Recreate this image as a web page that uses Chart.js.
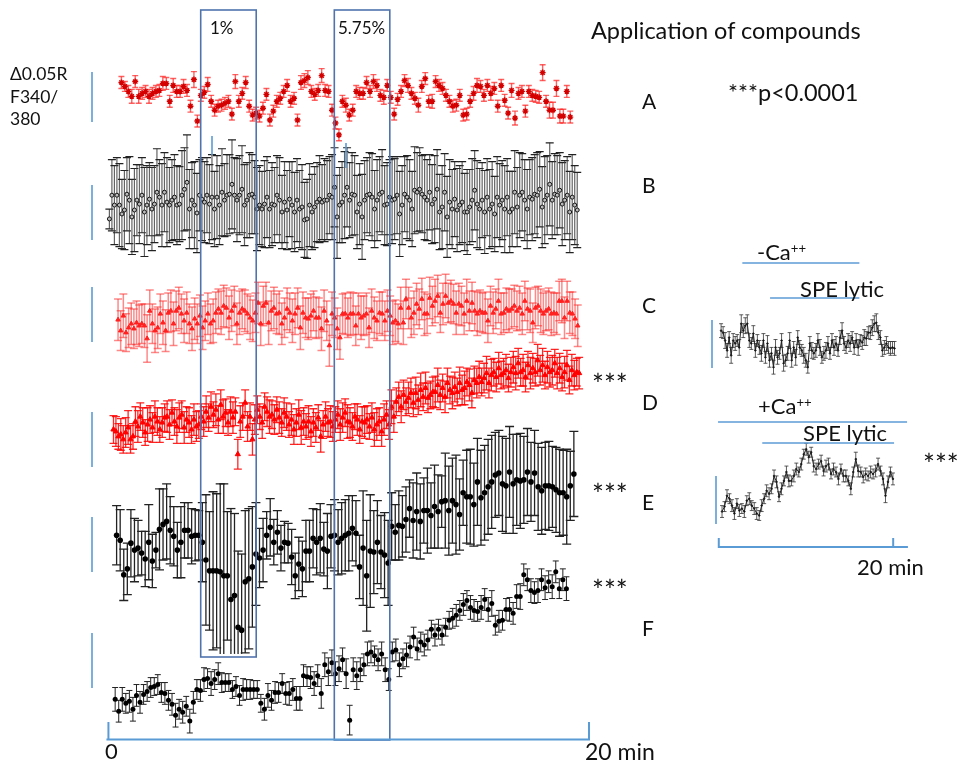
<!DOCTYPE html>
<html>
<head>
<meta charset="utf-8">
<script src="https://cdn.jsdelivr.net/npm/chart.js@4.4.1/dist/chart.umd.min.js"></script>
<style>
  body { margin: 0; background: #fff; }
  #wrap { position: relative; width: 961px; height: 770px; overflow: hidden;
          font-family: Lato, 'Open Sans', sans-serif; color: #111; background: #fff; }
  #fig { position: absolute; left: 0; top: 0; }
  .t { position: absolute; white-space: nowrap; line-height: 1; }
  .t sup { font-size: 60%; vertical-align: 0.55em; line-height: 0; }
</style>
</head>
<body>
<div id="wrap">
  <canvas id="fig" width="961" height="770"></canvas>

  <div class="t" style="left:210px;top:19px;font-size:17px">1%</div>
  <div class="t" style="left:338px;top:19px;font-size:17px">5.75%</div>
  <div class="t" style="left:591px;top:19px;font-size:23.5px">Application of compounds</div>
  <div class="t" style="left:728px;top:81px;font-size:23.5px">***p&lt;0.0001</div>

  <div class="t" style="left:10px;top:65px;font-size:17.5px">Δ0.05R</div>
  <div class="t" style="left:10px;top:88px;font-size:17.5px">F340/</div>
  <div class="t" style="left:10px;top:110px;font-size:17.5px">380</div>

  <div class="t" style="left:642px;top:90px;font-size:21px">A</div>
  <div class="t" style="left:642px;top:174px;font-size:21px">B</div>
  <div class="t" style="left:642px;top:294px;font-size:21px">C</div>
  <div class="t" style="left:642px;top:391px;font-size:21px">D</div>
  <div class="t" style="left:642px;top:491px;font-size:21px">E</div>
  <div class="t" style="left:642px;top:617px;font-size:21px">F</div>

  <div class="t" style="left:592px;top:370px;font-size:28px">***</div>
  <div class="t" style="left:592px;top:480px;font-size:28px">***</div>
  <div class="t" style="left:592px;top:576px;font-size:28px">***</div>

  <div class="t" style="left:105px;top:740px;font-size:22px">0</div>
  <div class="t" style="left:585px;top:740px;font-size:23px">20 min</div>

  <div class="t" style="left:757px;top:241px;font-size:22px">-Ca<sup>++</sup></div>
  <div class="t" style="left:800px;top:278px;font-size:22px">SPE lytic</div>
  <div class="t" style="left:758px;top:395px;font-size:22px">+Ca<sup>++</sup></div>
  <div class="t" style="left:803px;top:422px;font-size:22px">SPE lytic</div>
  <div class="t" style="left:923px;top:450px;font-size:28px">***</div>
  <div class="t" style="left:857px;top:556px;font-size:22px">20 min</div>
</div>

<script>
// ─── Data (ΔR x 1000, relative to each trace's scale bar foot) ────────────────

const A_SPAN = [0.54, 19.22];
const B_SPAN = [0.04, 19.51];
const C_SPAN = [0.40, 19.53];
const D_SPAN = [0.21, 19.59];
const E_SPAN = [0.34, 19.37];
const F_SPAN = [0.28, 19.06];
const INSET_TOP_SPAN = [0.15, 20.15];
const INSET_BOT_SPAN = [0.26, 19.97];

const traceA = [
  43,39,34,29,44,29,32,34,29,32, 34,35,42,42,24,40,34,34,39,35,
  19,46,4,30,33,41,24,15,19,20, 22,24,11,44,24,32,43,19,10,12,
  9,17,31,5,14,24,27,34,40,24, 27,5,43,45,48,34,31,35,50,35,
  34,15,2,-10,24,
  20,10,15,34,32,32,43,34,44,40, 30,28,40,28,11,26,34,45,40,32,
  27,20,39,47,24,24,44,40,37,30, 24,19,20,30,10,11,24,32,40,39,
  30,40,32,37,19,40,25,12,35,7, 32,34,14,34,30,29,28,53,24,15,
  15,37,9,9,34,8
];
const errA = [
  6,5,6,7,6,7,6,6,7,6, 6,6,7,6,6,7,6,6,7,6, 6,8,6,6,6,7,6,6,6,6,
  6,6,6,7,6,6,6,6,6,6, 6,6,6,6,6,6,6,6,6,6, 6,6,7,7,7,6,6,6,7,6,
  6,6,6,6,6,
  7,6,6,6,6,6,6,6,7,6, 6,7,6,6,6,6,6,6,7,6, 6,7,6,6,6,7,6,6,6,6,
  6,6,6,6,6,6,6,7,7,6, 6,6,7,6,6,6,6,6,7,7, 6,6,6,6,6,6,6,8,6,8,
  8,8,7,7,6,6
];

const traceB = [
  23,47,37,47,37,28,32,48,42,25, 32,42,38,47,30,37,43,33,38,50,
  45,37,50,40,37,42,45,37,38,47, 53,60,33,42,37,29,47,43,40,47,
  38,45,33,45,37,50,42,47,48,58, 47,42,47,53,37,42,47,48,45,33,
  37,33,38,45,33,38,37,47,42,30, 40,32,43,37,30,42,33,35,22,23,
  37,30,35,40,43,40,42,42,47,45, 55,25,37,40,47,55,42,48,47,30,
  38,25,42,47,48,45,33,42,48,50, 37,38,45,42,43,47,28,37,48,45,
  42,33,52,50,53,48,45,42,50,38, 43,53,30,35,50,25,40,33,43,32,
  37,40,30,30,35,42,52,38,33,42, 30,45,33,38,28,45,37,42,33,45,
  30,33,50,35,47,50,42,33,45,43, 48,47,53,35,42,47,58,42,48,47,
  52,38,42,47,30,45,37,32
];
const errB = [
  10,36,40,38,42,35,40,37,44,38, 42,36,40,38,45,40,37,42,39,44,
  38,42,40,45,38,41,43,40,38,45, 42,48,40,38,44,40,36,42,41,38,
  40,43,38,42,40,44,37,41,40,45, 38,42,40,44,41,38,43,40,37,42,
  40,38,44,41,39,42,38,40,43,37, 41,40,38,44,40,42,39,43,38,40,
  42,38,41,40,44,38,42,40,39,43, 40,42,38,41,44,40,38,42,40,37,
  41,43,40,38,42,44,39,41,38,43, 40,42,38,44,41,39,43,40,38,42,
  41,38,44,40,42,39,43,41,38,40, 44,40,38,42,39,41,43,40,38,42,
  40,41,39,43,38,42,40,44,41,38, 42,39,40,43,38,41,42,40,44,39,
  41,38,42,40,43,39,41,40,38,42, 40,43,38,41,44,40,42,39,41,40,
  38,42,40,39,41,43,40,38
];

const traceC = [
  23,12,27,10,15,19,14,20,17,19, 17,4,32,19,12,15,29,20,12,30,
  32,19,32,35,29,22,30,19,14,24, 19,27,15,22,29,19,22,30,34,30,
  37,35,25,32,37,19,30,34,32,29, 25,22,30,40,19,37,40,20,32,35,
  29,30,19,25,34,30,22,29,35,15, 30,25,24,27,32,25,25,14,32,22,
  -3,29,25,14,5,29,29,25,29,29, 17,29,25,27,29,15,32,25,22,30,
  29,22,32,27,20,22,19,35,20,44, 35,25,30,39,34,44,29,29,45,37,
  42,47,30,39,47,40,42,39,30,39, 37,29,42,32,40,32,29,32,30,30,
  22,37,30,34,42,29,30,34,32,34, 37,32,35,29,42,34,32,20,35,37,
  32,29,32,34,29,30,29,42,42,25, 42,30,29,24,17
];
const errC = [
  21,20,22,19,20,21,20,22,21,20, 22,24,21,20,22,21,20,22,21,20,
  21,22,20,21,20,22,21,20,22,21, 20,21,22,20,21,20,22,21,20,22,
  21,20,22,21,20,21,22,20,21,20, 22,21,20,21,22,20,21,22,20,21,
  20,22,21,20,21,20,22,21,20,22, 21,20,21,22,20,21,20,22,21,20,
  21,22,20,21,22,20,21,20,22,21, 20,21,22,20,21,20,22,21,20,21,
  22,20,21,20,22,21,20,21,22,20, 21,20,22,21,20,21,22,20,21,20,
  22,21,20,21,22,20,21,20,22,21, 20,21,22,20,21,20,22,21,20,21,
  22,20,21,20,22,21,20,21,22,20, 21,20,22,21,20,21,22,20,21,20,
  22,21,20,21,22,20,21,20,22,21, 20,21,22,20,21
];

const traceD = [
  37,35,30,32,27,34,39,27,30,
  45,40,50,44,34,42,47,39,50,45,37,44,49,
  50,42,54,45,40,49,52,39,47,
  44,37,47,40,42,50,45,55,49,
  60,52,57,47,62,50,54,44,55,49,
  55,12,45,50,64,40,50,27,
  47,57,50,44,60,
  55,50,52,47,57,49,44,54,
  50,42,47,37,44,52,39,45,
  40,45,35,44,39,49,30,42,
  50,44,45,40,47,52,42,
  49,54,45,44,40,50,47,37,45,
  44,47,40,49,37,42,45,35,47,52,42,
  60,50,
  65,70,60,72,65,69,74,64,
  74,67,77,70,79,69,72,75,
  75,82,72,79,70,84,77,74,
  80,75,84,77,79,85,82,74,
  87,84,90,85,89,94,84,92,
  95,90,99,92,94,97,89,95,
  100,94,104,95,97,90,102,94,
  99,95,107,97,102,92,100,95,
  97,104,94,99,90,95,102,87,
  97,92,95,94
];
const errD = [
  14,15,13,16,14,15,17,14,13,15, 16,14,15,13,17,14,15,16,14,13,
  15,14,16,15,13,14,17,15,14,16, 13,15,14,16,15,14,13,15,16,14,
  15,13,16,14,15,17,14,13,15,16, 14,15,16,14,13,15,14,16,15,14,
  13,16,14,15,17,14,15,13,16,14, 15,14,13,16,15,14,15,17,14,13,
  16,15,14,15,13,16,14,15,14,16, 15,13,14,16,15,14,17,15,14,13,
  16,14,15,16,14,13,15,17,16,14, 15,16,14,15,17,16,14,15,16,15,
  14,16,15,14,16,15,17,14,16,15, 14,15,16,17,15,14,16,15,14,16,
  15,14,16,15,17,14,16,15,14,15, 16,14,15,17,15,16,14,15,16,14,
  15,16,14,15,16,17,15,14,16,15, 14,16,15,14,16,15,17,14,16,15,
  15,14,16,15,14,16,15,14,16,15, 14,16
];

const traceE = [
  35,30,-5,1,27,20,22,17,11,28, 9,20,41,46,49,40,34,20,28,40,
  40,34,35,35,28,10,-1,-1,-1,-2, -6,-6,-30,-26,-58,-61,-12,-9,3,16,
  12,20,35,43,28,38,22,28,27,13, -6,6,1,19,19,32,28,32,21,19,
  34,35,28,32,35,37,42,37,3,22, -6,19,18,28,18,15,7,44,38,45,
  44,51,62,50,59,49,60,60,55,64, 59,69,70,60,70,66,56,78,74,74,
  66,89,73,78,84,89,96,98,87,85, 99,87,91,90,91,99,89,98,84,80,
  85,85,84,81,78,78,74,85,97
];
const errE = [
  30,31,26,26,34,32,28,22,28,38, 27,18,41,36,38,34,30,28,36,28,
  28,28,26,25,40,66,60,80,78,89, 93,65,92,83,77,77,72,71,61,52,
  30,32,24,29,23,22,23,21,20,28, 23,27,28,31,31,30,33,35,27,38,
  32,36,33,36,36,38,33,33,32,58, 56,57,42,42,37,43,43,34,28,35,
  31,33,29,38,39,38,33,43,33,42, 37,26,48,45,43,50,36,33,47,48,
  42,44,48,48,48,47,43,43,48,48, 46,50,46,48,44,44,40,43,44,44,
  44,45,41,43,44,43,48,35,43
];

const traceF = [
  -15,-27,-15,-19,-17,-25,-11,-18,-10,-7, -3,-2,0,-8,-9,-16,-20,-31,-25,-28,
  -22,-37,-18,-5,-6,5,6,1,5,11, 2,2,2,-5,-2,-11,-5,-5,-5,-5,
  -5,-19,-25,-11,-16,-8,-8,1,-9,-9, -5,-14,-14,9,8,7,1,9,-9,20,
  13,22,11,16,25,11,-36,15,9,15,20, 31,33,29,25,31,15,5,33,35,20,
  26,30,38,48,36,43,40,45,56,50, 56,50,58,65,67,70,75,81,85,78,
  75,74,78,86,76,82,60,64,65,76, 76,72,89,89,111,106,95,93,95,106,
  98,104,99,114,97,106,97
];
const errF = [
  12,11,12,10,11,12,11,11,10,10, 10,9,10,10,11,10,11,12,10,11,
  10,12,11,10,11,12,10,12,10,11, 10,9,9,9,10,10,11,10,10,9,
  9,9,11,12,10,11,10,10,11,12, 11,12,12,11,10,11,12,11,15,12,
  14,13,12,13,12,15,15,12,14,12, 11,12,11,10,11,12,12,11,10,11,
  12,10,12,11,10,11,10,11,10,9, 11,10,10,9,9,10,11,10,11,10,
  12,11,10,12,11,12,13,10,11,10, 11,12,11,12,13,11,11,12,11,12,
  11,12,11,12,11,10,11,12
];

// inset: -Ca++ then SPE lytic (top), +Ca++ then SPE lytic (bottom)
const insetTop = [
  38,36,28,18,31,13,28,25,28,21, 45,38,43,45,28,25,35,18,28,21,
  15,28,11,25,8,15,1,21,11,15, 28,5,8,15,28,8,21,11,31,21,
  18,13,8,1,25,18,15,18,28,21, 11,15,18,25,15,28,21,25,18,31,
  38,25,21,28,25,31,21,28,21,28, 26,31,30,36,36,41,45,46,36,31,
  18,21,25,21,20,21,20
];
const errInsetTop = [
  7,6,8,7,6,8,7,7,6,8, 9,7,8,9,7,6,8,7,6,7, 8,7,6,8,7,6,7,8,7,6,
  7,8,6,7,8,7,6,8,7,7, 6,8,7,6,7,8,6,7,7,8, 6,7,8,7,6,7,8,7,6,7,
  8,7,6,7,8,6,7,7,8,6, 7,8,7,6,7,8,8,9,7,7, 6,7,7,6,7,6,7
];
const insetBot = [
  11,16,27,24,17,9,19,12,14,11, 22,24,17,14,9,7,17,24,32,29,
  34,47,41,26,34,42,51,42,42,47, 54,51,59,69,74,66,71,57,54,59,
  62,52,57,59,49,54,51,44,54,47, 47,42,34,51,64,52,51,46,49,47,
  51,49,52,59,52,44,27,41,51,44
];
const errInsetBot = [
  6,5,6,5,6,6,5,6,5,6, 5,6,5,6,6,5,6,5,6,6, 5,6,6,5,6,5,6,6,5,6,
  6,5,6,5,6,6,5,6,6,5, 6,5,6,6,5,6,5,6,5,6, 6,5,6,5,7,6,5,6,6,5,
  6,5,6,6,5,6,7,6,5,6
];

// application windows (min) for the boxed compounds
const BOX_1PCT = [3.84, 6.15];
const BOX_575PCT = [9.40, 11.71];
// inset bars (inset minutes)
const INSET_BARS = [
  { from: 2.6, to: 16.1, y: 263 },   // -Ca++
  { from: 5.8, to: 16.1, y: 298 },   // SPE lytic
  { from: -0.2, to: 21.6, y: 422 },  // +Ca++
  { from: 4.9, to: 20.1, y: 443 },   // SPE lytic
];

// ─── Layout ───────────────────────────────────────────────────────────────────

const W = 961, H = 770;
const MAIN_X0 = 105, MAIN_PX_PER_MIN = 24.25;
const INSET_X0 = 722, INSET_PX_PER_MIN = 8.75;
// pixel row of each trace's zero (foot of its scale bar)
const BASE = { yA: 122, yB: 240, yC: 342, yD: 467, yE: 572, yF: 688, yI1: 368, yI2: 524 };
const BOX_BLUE = '#4f74ad';
const BAR_BLUE = '#5b9bd5';

function sampleTimes(span, n) {
  const out = [];
  for (let i = 0; i < n; i++) out.push(span[0] + (span[1] - span[0]) * i / (n - 1));
  return out;
}

function points(span, values) {
  const t = sampleTimes(span, values.length);
  return values.map((v, i) => ({ x: t[i], y: v }));
}

function yAxis(base) {
  return { type: 'linear', display: false, min: base - H, max: base };
}

// ─── Plugins ──────────────────────────────────────────────────────────────────

const errorBars = {
  id: 'errorBars',
  beforeDatasetsDraw(chart) {
    const ctx = chart.ctx;
    chart.data.datasets.forEach(ds => {
      if (!ds.err) return;
      const xs = chart.scales[ds.xAxisID];
      const ys = chart.scales[ds.yAxisID];
      ctx.save();
      ds.data.forEach((p, j) => {
        const e = ds.err[j];
        if (e == null) return;
        const x = xs.getPixelForValue(p.x);
        let lo = p.y - e, clipped = false;
        if (ds.errFloor != null && lo < ds.errFloor) { lo = ds.errFloor; clipped = true; }
        const yT = ys.getPixelForValue(p.y + e);
        const yB = ys.getPixelForValue(lo);
        ctx.strokeStyle = ds.errColor;
        ctx.lineWidth = ds.errWidth;
        ctx.beginPath(); ctx.moveTo(x, yT); ctx.lineTo(x, yB); ctx.stroke();
        ctx.strokeStyle = ds.capColor || ds.errColor;
        ctx.lineWidth = ds.capWidth || ds.errWidth;
        ctx.beginPath();
        ctx.moveTo(x - ds.capHalf, yT); ctx.lineTo(x + ds.capHalf, yT);
        if (!clipped) { ctx.moveTo(x - ds.capHalf, yB); ctx.lineTo(x + ds.capHalf, yB); }
        ctx.stroke();
      });
      ctx.restore();
    });
  }
};

const decorations = {
  id: 'decorations',
  afterDraw(chart) {
    const ctx = chart.ctx;
    const xm = chart.scales.x, xi = chart.scales.xi;
    ctx.save();

    // compound windows
    ctx.strokeStyle = BOX_BLUE;
    ctx.lineWidth = 1.6;
    const b1 = BOX_1PCT.map(v => xm.getPixelForValue(v));
    const b2 = BOX_575PCT.map(v => xm.getPixelForValue(v));
    ctx.strokeRect(b1[0], 10, b1[1] - b1[0], 647);
    ctx.strokeRect(b2[0], 10, b2[1] - b2[0], 730);

    // scale bars (0.05 R) and odd marks
    ctx.strokeStyle = BAR_BLUE;
    ctx.lineWidth = 1.6;
    const bar = (x, y0, y1) => { ctx.beginPath(); ctx.moveTo(x, y0); ctx.lineTo(x, y1); ctx.stroke(); };
    bar(92, 72, 122); bar(92, 185, 240); bar(92, 287, 342);
    bar(92, 412, 467); bar(92, 517, 572); bar(92, 633, 688);
    bar(212, 136, 155); bar(346, 143, 168);
    bar(712, 320, 368); bar(716, 476, 524);

    // time axes
    ctx.lineWidth = 2;
    const x0 = xm.getPixelForValue(0), x20 = xm.getPixelForValue(20);
    ctx.beginPath();
    ctx.moveTo(x0 - 2, 739.5); ctx.lineTo(x20 + 1, 739.5);
    ctx.moveTo(x0, 722); ctx.lineTo(x0, 739.5);
    ctx.moveTo(x20, 722); ctx.lineTo(x20, 739.5);
    ctx.stroke();

    const i0 = xi.getPixelForValue(0), i20 = xi.getPixelForValue(20);
    ctx.beginPath();
    ctx.moveTo(i0 - 2, 547); ctx.lineTo(xi.getPixelForValue(21.7), 547);
    ctx.moveTo(i0 - 1, 538); ctx.lineTo(i0 - 1, 547);
    ctx.moveTo(i20, 538); ctx.lineTo(i20, 547);
    ctx.stroke();

    ctx.lineWidth = 1.6;
    INSET_BARS.forEach(b => {
      ctx.beginPath();
      ctx.moveTo(xi.getPixelForValue(b.from), b.y);
      ctx.lineTo(xi.getPixelForValue(b.to), b.y);
      ctx.stroke();
    });
    ctx.restore();
  }
};

// ─── Chart ────────────────────────────────────────────────────────────────────

function trace(values, span, yAxisID, style) {
  return Object.assign({
    data: points(span, values),
    xAxisID: 'x',
    yAxisID,
    showLine: false,
    pointHoverRadius: 0,
  }, style);
}

const datasets = [
  trace(traceA, A_SPAN, 'yA', {
    err: errA, errColor: 'rgba(255,30,30,0.7)', errWidth: 1.4, capHalf: 3,
    pointStyle: 'star', pointRadius: 3, borderColor: '#d40000', borderWidth: 1.4,
    backgroundColor: '#d40000',
  }),
  trace(traceB, B_SPAN, 'yB', {
    err: errB, errColor: 'rgba(60,60,60,0.8)', errWidth: 1.2,
    capColor: '#222', capWidth: 1.2, capHalf: 4,
    pointStyle: 'circle', pointRadius: 2, borderColor: '#111', borderWidth: 1,
    backgroundColor: '#bbb',
  }),
  trace(traceC, C_SPAN, 'yC', {
    err: errC, errColor: 'rgba(255,40,40,0.55)', errWidth: 1.5, capHalf: 4,
    pointStyle: 'triangle', pointRadius: 2.6, borderColor: '#ff2020', borderWidth: 1,
    backgroundColor: '#ff2020',
  }),
  trace(traceD, D_SPAN, 'yD', {
    err: errD, errColor: 'rgba(255,0,0,0.85)', errWidth: 1.3, capHalf: 4,
    pointStyle: 'triangle', pointRadius: 3, borderColor: '#ff0000', borderWidth: 1,
    backgroundColor: '#ff0000',
  }),
  trace(traceE, E_SPAN, 'yE', {
    err: errE, errFloor: BASE.yE - 657, errColor: '#222', errWidth: 1.3, capHalf: 4.5,
    pointStyle: 'circle', pointRadius: 2.8, borderColor: '#000', borderWidth: 0,
    backgroundColor: '#000',
  }),
  trace(traceF, F_SPAN, 'yF', {
    err: errF, errColor: '#222', errWidth: 1, capHalf: 3,
    pointStyle: 'circle', pointRadius: 2.5, borderColor: '#000', borderWidth: 0,
    backgroundColor: '#000',
  }),
  trace(insetTop, INSET_TOP_SPAN, 'yI1', {
    xAxisID: 'xi', showLine: true, borderColor: '#222', borderWidth: 1,
    err: errInsetTop, errColor: '#333', errWidth: 0.8, capHalf: 2,
    pointRadius: 0.8, backgroundColor: '#000',
  }),
  trace(insetBot, INSET_BOT_SPAN, 'yI2', {
    xAxisID: 'xi', showLine: true, borderColor: '#222', borderWidth: 1,
    err: errInsetBot, errColor: '#333', errWidth: 0.8, capHalf: 2,
    pointRadius: 0.8, backgroundColor: '#000',
  }),
];

const scales = {
  x:  { type: 'linear', display: false, min: -MAIN_X0 / MAIN_PX_PER_MIN, max: (W - MAIN_X0) / MAIN_PX_PER_MIN },
  xi: { type: 'linear', axis: 'x', display: false, min: -INSET_X0 / INSET_PX_PER_MIN, max: (W - INSET_X0) / INSET_PX_PER_MIN },
};
Object.keys(BASE).forEach(id => { scales[id] = yAxis(BASE[id]); });

new Chart(document.getElementById('fig'), {
  type: 'scatter',
  data: { datasets },
  options: {
    responsive: false,
    animation: false,
    devicePixelRatio: 1,
    layout: { padding: 0 },
    scales,
    plugins: { legend: { display: false }, tooltip: { enabled: false } },
    events: [],
  },
  plugins: [errorBars, decorations],
});
</script>
</body>
</html>
